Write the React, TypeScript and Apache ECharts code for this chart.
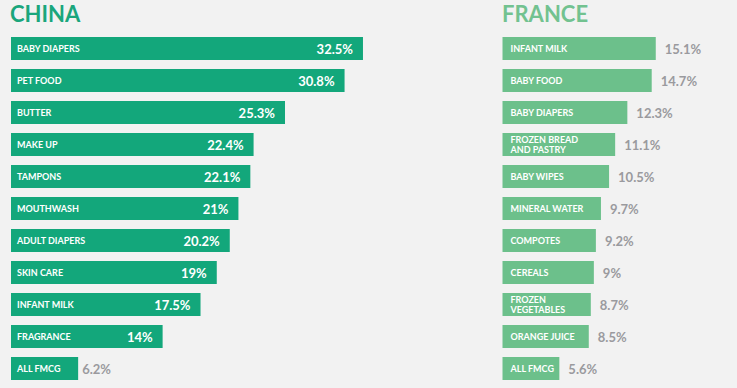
import React, { useEffect, useRef } from "react";
import * as echarts from "echarts";

const chinaCategories = [
  "BABY DIAPERS", "PET FOOD", "BUTTER", "MAKE UP", "TAMPONS", "MOUTHWASH",
  "ADULT DIAPERS", "SKIN CARE", "INFANT MILK", "FRAGRANCE", "ALL FMCG",
];
const chinaValues = [32.5, 30.8, 25.3, 22.4, 22.1, 21, 20.2, 19, 17.5, 14, 6.2];

const franceCategories = [
  "INFANT MILK", "BABY FOOD", "BABY DIAPERS", "FROZEN BREAD\nAND PASTRY", "BABY WIPES",
  "MINERAL WATER", "COMPOTES", "CEREALS", "FROZEN\nVEGETABLES", "ORANGE JUICE", "ALL FMCG",
];
const franceValues = [15.1, 14.7, 12.3, 11.1, 10.5, 9.7, 9.2, 9, 8.7, 8.5, 5.6];

const CHINA_COLOR = "#13a77b";
const FRANCE_COLOR = "#6cc08b";
const GRAY = "#9a9a9e";
const FONT = "Lato";

export default function App() {
  const ref = useRef<HTMLDivElement>(null);
  useEffect(() => {
    document.body.style.margin = "0";
    document.body.style.background = "#f2f2f2";
    const chart = echarts.init(ref.current!, null, { renderer: "svg" });
    const fmt = (v: number) => `${v}%`;
    chart.setOption({
      animation: false,
      backgroundColor: "#f2f2f2",
      title: [
        {
          text: "CHINA",
          left: 10,
          top: 2,
          padding: 0,
          textStyle: { color: "#1aa67c", fontFamily: FONT, fontWeight: "bold", fontSize: 22 },
        },
        {
          text: "FRANCE",
          left: 502,
          top: 2,
          padding: 0,
          textStyle: { color: "#72c290", fontFamily: FONT, fontWeight: "bold", fontSize: 22 },
        },
      ],
      grid: [
        { left: 11, top: 32.5, width: 433.2, height: 352 },
        { left: 502.5, top: 32.5, width: 203, height: 352 },
      ],
      xAxis: [
        { gridIndex: 0, type: "value", min: 0, max: 40, show: false },
        { gridIndex: 1, type: "value", min: 0, max: 20, show: false },
      ],
      yAxis: [
        {
          gridIndex: 0,
          type: "category",
          inverse: true,
          data: chinaCategories,
          z: 10,
          axisLine: { show: false },
          axisTick: { show: false },
          axisLabel: {
            inside: true,
            margin: 6,
            color: "#ffffff",
            fontFamily: FONT,
            fontWeight: "bold",
            fontSize: 9,
          },
        },
        {
          gridIndex: 1,
          type: "category",
          inverse: true,
          data: franceCategories,
          z: 10,
          axisLine: { show: false },
          axisTick: { show: false },
          axisLabel: {
            inside: true,
            margin: 8,
            color: "#ffffff",
            fontFamily: FONT,
            fontWeight: "bold",
            fontSize: 9,
            lineHeight: 10,
          },
        },
      ],
      series: [
        {
          type: "bar",
          xAxisIndex: 0,
          yAxisIndex: 0,
          barWidth: 23,
          itemStyle: { color: CHINA_COLOR },
          data: chinaValues.map((v, i) =>
            i === chinaValues.length - 1
              ? {
                  value: v,
                  label: {
                    show: true,
                    position: "right",
                    distance: 4,
                    color: GRAY,
                    formatter: fmt(v),
                    fontFamily: FONT,
                    fontWeight: "bold",
                    fontSize: 13,
                  },
                }
              : {
                  value: v,
                  label: {
                    show: true,
                    position: "insideRight",
                    distance: 10,
                    color: "#ffffff",
                    formatter: fmt(v),
                    fontFamily: FONT,
                    fontWeight: "bold",
                    fontSize: 13,
                  },
                }
          ),
        },
        {
          type: "bar",
          xAxisIndex: 1,
          yAxisIndex: 1,
          barWidth: 23,
          itemStyle: { color: FRANCE_COLOR },
          label: {
            show: true,
            position: "right",
            distance: 9,
            color: GRAY,
            formatter: (p: any) => fmt(p.value),
            fontFamily: FONT,
            fontWeight: "bold",
            fontSize: 13,
          },
          data: franceValues,
        },
      ],
    });
    return () => chart.dispose();
  }, []);
  return (
    <div
      ref={ref}
      style={{ position: "absolute", left: 0, top: 0, width: 737, height: 388 }}
    />
  );
}
